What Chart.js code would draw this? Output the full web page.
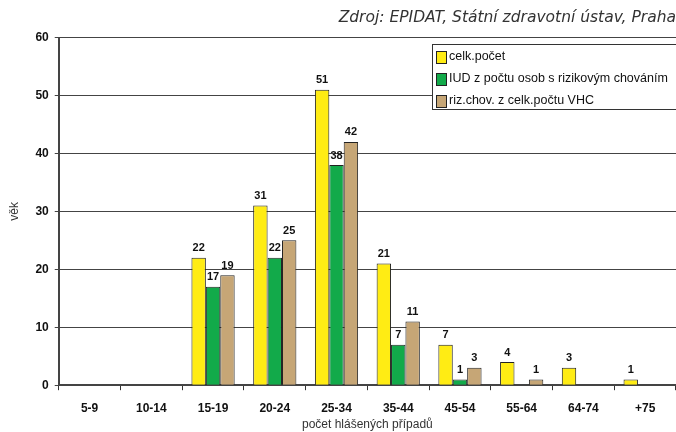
<!DOCTYPE html>
<html>
<head>
<meta charset="utf-8">
<script src="https://cdn.jsdelivr.net/npm/chart.js@4/dist/chart.umd.min.js"></script>
<style>
  body { margin: 0; background: #fff; }
  #wrap { width: 676px; height: 432px; }
</style>
</head>
<body>
<div id="wrap"><canvas id="chart" width="676" height="432"></canvas></div>
<script>
var categories = ["5-9", "10-14", "15-19", "20-24", "25-34", "35-44", "45-54", "55-64", "64-74", "+75"];
var celkPocet = [null, null, 22, 31, 51, 21, 7, 4, 3, 1];
var iudRiziko = [null, null, 17, 22, 38, 7, 1, null, null, null];
var rizChovVhc = [null, null, 19, 25, 42, 11, 3, 1, null, null];
var seriesNames = ["celk.počet", "IUD z počtu osob s rizikovým chováním", "riz.chov. z celk.počtu VHC"];
var seriesColors = ["#FFEC14", "#12AA4A", "#C6A676"];

// popisky hodnot nad sloupci
var valueLabels = {
    id: "valueLabels",
    afterDatasetsDraw: function (chart) {
        var ctx = chart.ctx;
        ctx.save();
        ctx.font = "bold 11px 'Liberation Sans', Arial, sans-serif";
        ctx.fillStyle = "#111";
        ctx.textAlign = "center";
        ctx.textBaseline = "bottom";
        chart.data.datasets.forEach(function (ds, i) {
            var meta = chart.getDatasetMeta(i);
            meta.data.forEach(function (bar, j) {
                var v = ds.data[j];
                if (v === null || v === undefined) return;
                ctx.fillText(v, bar.x, bar.y - 4);
            });
        });
        ctx.restore();
    }
};

// legenda uvnitř grafu
var boxLegend = {
    id: "boxLegend",
    afterDraw: function (chart) {
        var ctx = chart.ctx;
        var x = 432, y = 44, w = 246, h = 65;
        ctx.save();
        ctx.fillStyle = "#fff";
        ctx.fillRect(x, y, w, h);
        ctx.strokeStyle = "#333";
        ctx.lineWidth = 1;
        ctx.strokeRect(x + 0.5, y + 0.5, w, h);
        ctx.font = "12.5px 'Liberation Sans', Arial, sans-serif";
        ctx.textBaseline = "middle";
        chart.data.datasets.forEach(function (ds, i) {
            var cy = y + 13 + i * 22;
            ctx.fillStyle = ds.backgroundColor;
            ctx.fillRect(x + 4, cy - 6, 10, 12);
            ctx.strokeStyle = "#222";
            ctx.strokeRect(x + 4.5, cy - 5.5, 10, 12);
            ctx.fillStyle = "#111";
            ctx.fillText(ds.label, x + 17, cy);
        });
        ctx.restore();
    }
};

new Chart("chart", {
    type: "bar",
    data: {
        labels: categories,
        datasets: [
            { label: seriesNames[0], data: celkPocet, backgroundColor: seriesColors[0] },
            { label: seriesNames[1], data: iudRiziko, backgroundColor: seriesColors[1] },
            { label: seriesNames[2], data: rizChovVhc, backgroundColor: seriesColors[2] }
        ]
    },
    options: {
        responsive: false,
        animation: false,
        layout: { padding: { left: 7, right: 0, top: 0, bottom: 0 } },
        datasets: {
            bar: {
                categoryPercentage: 0.7,
                barPercentage: 1.0,
                borderColor: "#222",
                borderWidth: 1
            }
        },
        plugins: {
            legend: { display: false },
            tooltip: { enabled: false },
            title: {
                display: true,
                text: "Zdroj: EPIDAT, Státní zdravotní ústav, Praha",
                align: "end",
                color: "#333",
                font: { family: "'DejaVu Sans', sans-serif", size: 15.5, style: "italic", weight: "normal" },
                padding: { top: 9, bottom: 10 }
            }
        },
        scales: {
            x: {
                grid: { display: true, drawOnChartArea: false, drawTicks: true, tickLength: 5, color: "#333", lineWidth: 1 },
                border: { color: "#444", width: 2 },
                ticks: {
                    color: "#111",
                    padding: 11,
                    maxRotation: 0,
                    font: { family: "'Liberation Sans', Arial, sans-serif", size: 12, weight: "bold" }
                },
                title: {
                    display: true,
                    text: "počet hlášených případů",
                    color: "#333",
                    padding: { top: -9, bottom: 0 },
                    font: { family: "'Liberation Sans', Arial, sans-serif", size: 12 }
                }
            },
            y: {
                min: 0,
                max: 60,
                grid: { color: "#444", lineWidth: 1, tickLength: 4 },
                border: { color: "#444", width: 2 },
                ticks: {
                    stepSize: 10,
                    color: "#111",
                    padding: 6,
                    font: { family: "'Liberation Sans', Arial, sans-serif", size: 12, weight: "bold" }
                },
                title: {
                    display: true,
                    text: "věk",
                    color: "#333",
                    padding: { top: 0, bottom: 8 },
                    font: { family: "'Liberation Sans', Arial, sans-serif", size: 12 }
                }
            }
        }
    },
    plugins: [valueLabels, boxLegend]
});
</script>
</body>
</html>
